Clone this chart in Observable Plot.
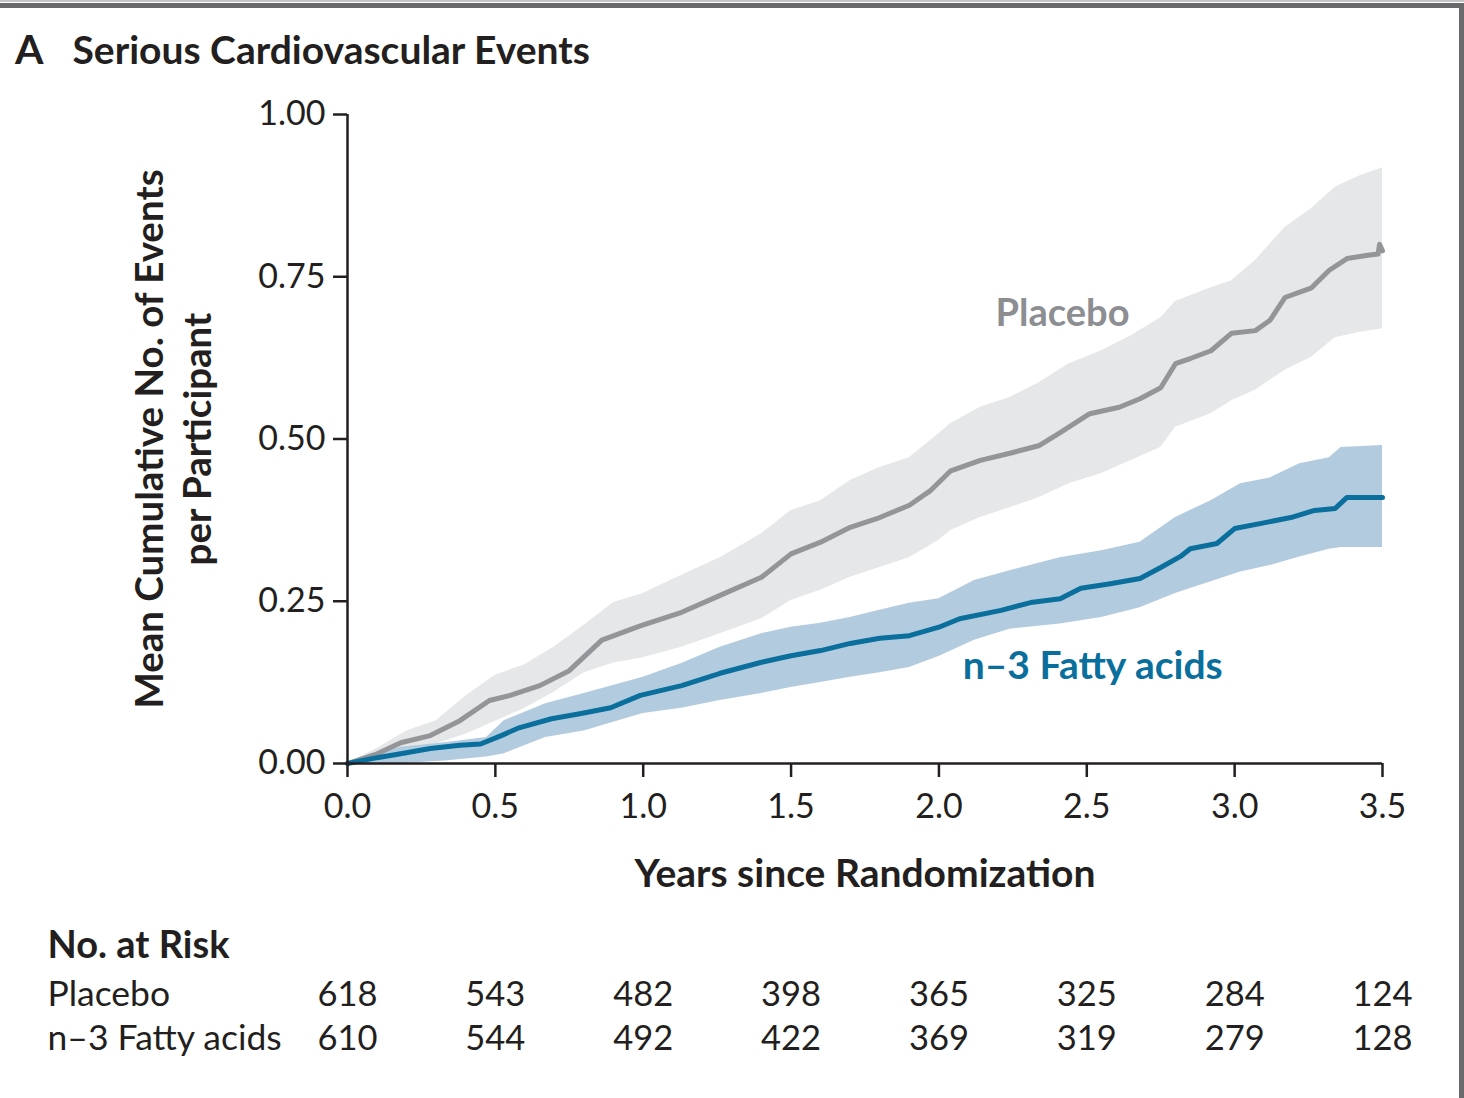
<!DOCTYPE html>
<html><head><meta charset="utf-8">
<script src="https://cdn.jsdelivr.net/npm/d3@7"></script>
<script src="https://cdn.jsdelivr.net/npm/@observablehq/plot@0.6"></script>
<style>
html,body{margin:0;padding:0;background:#fff;}
#wrap{position:relative;width:1464px;height:1098px;overflow:hidden;background:#fff;font-family:Lato,"Noto Sans",sans-serif;color:#231f20;}
#chart{position:absolute;left:0;top:0;}
#bar1{position:absolute;left:0;top:0;width:1464px;height:2px;background:#c4c4c4;}
#bar2{position:absolute;left:0;top:3px;width:1464px;height:5px;background:#6a6a6d;}
#rbar{position:absolute;left:1459px;top:8px;width:5px;height:1090px;background:#6a6a6d;}
#title{position:absolute;left:15px;top:24px;white-space:nowrap;font-weight:700;line-height:50px;}
#title .a{font-size:41px;margin-right:29px;}
#title .t{font-size:39px;}
</style>
</head><body>
<div id="wrap">
  <div id="chart"></div>
  <div id="bar1"></div><div id="bar2"></div><div id="rbar"></div>
  <div id="title"><span class="a">A</span><span class="t">Serious Cardiovascular Events</span></div>
</div>
<script>
// ---- data ----
const xTicks = [0, 0.5, 1, 1.5, 2, 2.5, 3, 3.5];
const yTicks = [0, 0.25, 0.5, 0.75, 1];
const riskPlacebo = [618, 543, 482, 398, 365, 325, 284, 124];
const riskFatty = [610, 544, 492, 422, 369, 319, 279, 128];
const groupNames = ["Placebo", "n\u20133 Fatty acids"];

const placeboT = [0,0.1,0.18,0.28,0.38,0.48,0.55,0.65,0.75,0.86,0.99,1.13,1.26,1.4,1.5,1.6,1.7,1.8,1.9,1.97,2.04,2.14,2.24,2.34,2.41,2.51,2.61,2.68,2.75,2.8,2.85,2.92,2.99,3.07,3.12,3.17,3.26,3.32,3.38,3.45,3.485,3.49,3.5];
const placeboMean = [0,0.015,0.032,0.043,0.066,0.097,0.105,0.12,0.143,0.19,0.212,0.233,0.259,0.287,0.323,0.341,0.364,0.379,0.398,0.42,0.451,0.467,0.478,0.49,0.51,0.539,0.549,0.562,0.579,0.616,0.624,0.636,0.663,0.667,0.683,0.718,0.733,0.76,0.778,0.783,0.785,0.8,0.79];

const placeboBandT = [0,0.1,0.2,0.3,0.4,0.5,0.6,0.7,0.8,0.9,1.0,1.13,1.26,1.4,1.5,1.6,1.7,1.8,1.9,2.0,2.04,2.14,2.24,2.34,2.44,2.55,2.65,2.75,2.8,2.92,2.99,3.07,3.17,3.26,3.34,3.42,3.5];
const placeboUpper = [0,0.023,0.05,0.066,0.104,0.136,0.152,0.18,0.213,0.248,0.262,0.29,0.317,0.354,0.39,0.405,0.436,0.456,0.471,0.508,0.524,0.549,0.564,0.587,0.616,0.636,0.659,0.687,0.712,0.733,0.744,0.775,0.826,0.855,0.888,0.905,0.918];
const placeboLower = [0,0.005,0.015,0.03,0.045,0.065,0.085,0.11,0.14,0.155,0.163,0.179,0.2,0.223,0.251,0.267,0.287,0.302,0.317,0.344,0.359,0.379,0.394,0.41,0.431,0.447,0.467,0.487,0.518,0.539,0.559,0.575,0.606,0.626,0.656,0.664,0.67];

const fattyT = [0,0.1,0.18,0.28,0.38,0.45,0.52,0.58,0.69,0.79,0.89,0.99,1.13,1.26,1.4,1.5,1.6,1.7,1.8,1.9,2.0,2.07,2.21,2.31,2.41,2.48,2.58,2.68,2.75,2.82,2.85,2.94,3.0,3.09,3.19,3.27,3.34,3.38,3.5];
const fattyMean = [0,0.009,0.015,0.023,0.028,0.03,0.043,0.055,0.069,0.077,0.086,0.105,0.12,0.139,0.156,0.166,0.174,0.185,0.193,0.197,0.21,0.223,0.236,0.248,0.254,0.27,0.277,0.285,0.302,0.32,0.331,0.339,0.362,0.37,0.379,0.39,0.393,0.41,0.41];

const fattyBandT = [0,0.18,0.33,0.47,0.53,0.67,0.8,1.0,1.13,1.26,1.4,1.5,1.6,1.7,1.8,1.9,2.0,2.12,2.24,2.41,2.55,2.68,2.8,2.92,3.02,3.12,3.22,3.32,3.36,3.5];
const fattyUpper = [0,0.025,0.032,0.04,0.066,0.092,0.108,0.133,0.154,0.179,0.2,0.21,0.216,0.225,0.236,0.247,0.254,0.282,0.297,0.317,0.328,0.341,0.379,0.405,0.431,0.44,0.462,0.471,0.487,0.49];
const fattyLower = [0,0,0.004,0.01,0.015,0.04,0.05,0.077,0.085,0.097,0.108,0.117,0.125,0.133,0.14,0.148,0.165,0.19,0.207,0.215,0.225,0.24,0.262,0.28,0.295,0.305,0.318,0.33,0.333,0.333];

// curve labels: [x, y]
const labelPlacebo = [2.418, 0.693];
const labelFatty = [2.52, 0.149];

// ---- build tables ----
const zip = (t, a, b) => t.map((x, i) => ({x, a: a[i], b: b ? b[i] : undefined}));
const pLine = zip(placeboT, placeboMean);
const pBand = zip(placeboBandT, placeboUpper, placeboLower);
const fLine = zip(fattyT, fattyMean);
const fBand = zip(fattyBandT, fattyUpper, fattyLower);

const grayLine = "#939598", grayBand = "#e6e7e8";
const blueLine = "#0a6f9c", blueBand = "#b3cbdf";
const ink = "#231f20";
const F = "Lato, 'Noto Sans', sans-serif";

const plot = Plot.plot({
  width: 1464,
  height: 1098,
  marginLeft: 347,
  marginRight: 82,
  marginTop: 114,
  marginBottom: 335,
  style: {background: "transparent", fontFamily: F, color: ink, overflow: "visible"},
  x: {domain: [0, 3.5]},
  y: {domain: [0, 1]},
  marks: [
    Plot.areaY(pBand, {x: "x", y1: "b", y2: "a", fill: grayBand}),
    Plot.areaY(fBand, {x: "x", y1: "b", y2: "a", fill: blueBand}),
    Plot.line(pLine, {x: "x", y: "a", stroke: grayLine, strokeWidth: 5}),
    Plot.line(fLine, {x: "x", y: "a", stroke: blueLine, strokeWidth: 5}),
    Plot.ruleY([0], {stroke: ink, strokeWidth: 2.5}),
    Plot.ruleX([0], {y1: 0, y2: 1, stroke: ink, strokeWidth: 2.5}),
    Plot.axisY({ticks: yTicks, tickFormat: d3.format(".2f"), tickSize: 14, tickPadding: 8, fontSize: 34, fontWeight: 400, stroke: ink, strokeWidth: 2.5, fill: ink, label: null}),
    Plot.axisX({ticks: xTicks, tickFormat: d3.format(".1f"), tickSize: 14, tickPadding: 16, fontSize: 34, fontWeight: 400, stroke: ink, strokeWidth: 2.5, fill: ink, label: null}),
    // axis titles
    Plot.text(["Mean Cumulative No. of Events\nper Participant"], {frameAnchor: "left", textAnchor: "middle", rotate: -90, dx: -176, lineHeight: 1.25, fontSize: 38.5, fontWeight: 700, fill: ink, text: d => d}),
    Plot.text(["Years since Randomization"], {x: 1.75, frameAnchor: "bottom", dy: 123, fontSize: 39, fontWeight: 700, fill: ink, text: d => d}),
    // curve labels
    Plot.text([labelPlacebo], {x: d => d[0], y: d => d[1], text: () => groupNames[0], fontSize: 38, fontWeight: 700, fill: "#8c8e91"}),
    Plot.text([labelFatty], {x: d => d[0], y: d => d[1], text: () => groupNames[1], fontSize: 39, fontWeight: 700, fill: blueLine}),
    // number at risk table
    Plot.text(["No. at Risk"], {frameAnchor: "bottom-left", dx: -300, dy: 194, textAnchor: "start", fontSize: 38, fontWeight: 700, fill: ink, text: d => d}),
    Plot.text([groupNames[0]], {frameAnchor: "bottom-left", dx: -300, dy: 242, textAnchor: "start", fontSize: 35.5, fill: ink, text: d => d}),
    Plot.text([groupNames[1]], {frameAnchor: "bottom-left", dx: -300, dy: 286, textAnchor: "start", fontSize: 35.5, fill: ink, text: d => d}),
    Plot.text(riskPlacebo, {x: (d, i) => xTicks[i], frameAnchor: "bottom", dy: 242, fontSize: 34.5, fill: ink, text: d => String(d)}),
    Plot.text(riskFatty, {x: (d, i) => xTicks[i], frameAnchor: "bottom", dy: 286, fontSize: 34.5, fill: ink, text: d => String(d)})
  ]
});
document.getElementById("chart").appendChild(plot);
</script>
</body></html>
